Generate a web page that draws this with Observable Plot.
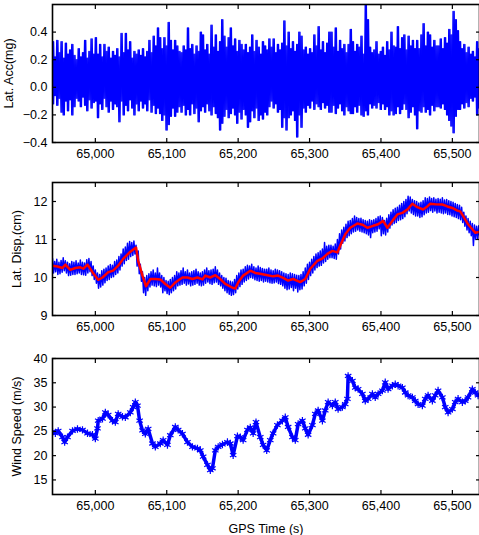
<!DOCTYPE html>
<html><head><meta charset="utf-8">
<script src="https://cdn.jsdelivr.net/npm/d3@7"></script>
<script src="https://cdn.jsdelivr.net/npm/@observablehq/plot@0.6"></script>
<style>
body{margin:0;background:#fff;}
#chart svg{display:block;}
</style></head><body><div id="chart"></div>
<script>
// ---------- shared x axis ----------
const xDomain = [64940, 65538];
const xTicks = [65000, 65100, 65200, 65300, 65400, 65500];
const xTitle = "GPS Time (s)";

// ---------- panel 1: lateral acceleration (3 s bins, max / min of each bin) ----------
const accStart = 64940, accStep = 3;
const accHi = [
  0.33,0.22,0.34,0.25,0.33,0.21,0.32,0.24,0.27,0.31,
  0.23,0.20,0.28,0.22,0.25,0.34,0.21,0.26,0.35,0.24,
  0.36,0.24,0.31,0.22,0.31,0.26,0.29,0.21,0.26,0.23,
  0.28,0.22,0.39,0.25,0.39,0.27,0.33,0.21,0.26,0.24,
  0.27,0.23,0.28,0.22,0.26,0.34,0.25,0.37,0.30,0.43,
  0.36,0.28,0.36,0.30,0.47,0.34,0.27,0.34,0.30,0.26,
  0.25,0.30,0.27,0.43,0.28,0.31,0.24,0.30,0.26,0.40,
  0.38,0.27,0.31,0.24,0.45,0.29,0.38,0.26,0.33,0.49,
  0.37,0.29,0.36,0.43,0.30,0.35,0.26,0.34,0.31,0.27,
  0.31,0.25,0.29,0.38,0.26,0.34,0.29,0.24,0.33,0.30,
  0.27,0.35,0.29,0.35,0.25,0.31,0.27,0.32,0.48,0.30,
  0.40,0.28,0.33,0.26,0.31,0.40,0.37,0.27,0.29,0.24,
  0.28,0.25,0.38,0.30,0.44,0.27,0.33,0.25,0.32,0.40,
  0.40,0.29,0.43,0.26,0.34,0.28,0.31,0.25,0.31,0.42,
  0.33,0.26,0.31,0.29,0.37,0.24,0.60,0.49,0.29,0.25,
  0.27,0.33,0.24,0.26,0.29,0.23,0.33,0.27,0.40,0.30,
  0.29,0.44,0.28,0.36,0.38,0.27,0.37,0.30,0.34,0.28,
  0.34,0.28,0.38,0.46,0.30,0.40,0.38,0.29,0.34,0.30,
  0.30,0.35,0.28,0.36,0.32,0.42,0.38,0.55,0.49,0.41,
  0.33,0.28,0.31,0.25,0.29,0.24,0.26,0.22,0.33,0.28
];
const accLo = [
  -0.12,-0.06,-0.13,-0.08,-0.18,-0.20,-0.10,-0.17,-0.09,-0.20,
  -0.14,-0.08,-0.10,-0.14,-0.07,-0.13,-0.17,-0.09,-0.15,-0.11,
  -0.10,-0.22,-0.12,-0.16,-0.08,-0.14,-0.18,-0.10,-0.16,-0.12,
  -0.14,-0.25,-0.10,-0.20,-0.13,-0.17,-0.09,-0.15,-0.20,-0.12,
  -0.17,-0.10,-0.15,-0.12,-0.17,-0.09,-0.18,-0.13,-0.19,-0.15,
  -0.19,-0.24,-0.20,-0.31,-0.27,-0.21,-0.15,-0.21,-0.18,-0.14,
  -0.18,-0.13,-0.20,-0.16,-0.20,-0.12,-0.19,-0.15,-0.25,-0.17,
  -0.14,-0.18,-0.12,-0.17,-0.20,-0.14,-0.19,-0.22,-0.31,-0.26,
  -0.21,-0.16,-0.22,-0.19,-0.15,-0.20,-0.26,-0.18,-0.23,-0.16,
  -0.20,-0.29,-0.25,-0.17,-0.22,-0.15,-0.24,-0.20,-0.23,-0.18,
  -0.20,-0.14,-0.10,-0.15,-0.12,-0.18,-0.16,-0.29,-0.22,-0.31,
  -0.22,-0.20,-0.17,-0.24,-0.36,-0.20,-0.29,-0.15,-0.18,-0.13,
  -0.15,-0.10,-0.16,-0.12,-0.14,-0.16,-0.11,-0.15,-0.13,-0.18,
  -0.18,-0.13,-0.19,-0.15,-0.12,-0.17,-0.20,-0.14,-0.17,-0.19,
  -0.19,-0.14,-0.18,-0.13,-0.20,-0.21,-0.17,-0.20,-0.12,-0.15,
  -0.13,-0.15,-0.11,-0.16,-0.12,-0.16,-0.14,-0.20,-0.17,-0.20,
  -0.19,-0.14,-0.19,-0.16,-0.12,-0.16,-0.22,-0.18,-0.14,-0.20,
  -0.30,-0.17,-0.18,-0.14,-0.18,-0.16,-0.20,-0.13,-0.17,-0.14,
  -0.14,-0.15,-0.12,-0.16,-0.20,-0.24,-0.28,-0.33,-0.21,-0.16,
  -0.16,-0.12,-0.15,-0.11,-0.14,-0.08,-0.10,-0.07,-0.20,-0.15
];
const accTicks = [-0.4, -0.2, 0, 0.2, 0.4];

// ---------- panel 2: lateral displacement ----------
const dispStart = 64940, dispStep = 3;
const dispHi = [
  10.50,10.42,10.48,10.40,10.45,10.52,10.44,10.40,10.36,10.42,
  10.40,10.44,10.38,10.46,10.40,10.38,10.47,10.50,10.42,10.30,
  10.20,10.12,10.08,10.18,10.22,10.25,10.30,10.34,10.32,10.42,
  10.46,10.55,10.62,10.75,10.80,10.90,10.95,10.92,10.96,10.85,
  10.70,10.35,10.15,10.00,10.05,10.10,10.15,10.20,10.12,10.25,
  10.12,10.05,10.00,9.92,9.90,9.95,10.00,10.05,10.15,10.12,
  10.18,10.25,10.15,10.20,10.12,10.15,10.18,10.22,10.15,10.12,
  10.15,10.20,10.25,10.18,10.20,10.22,10.28,10.20,10.12,10.05,
  10.00,9.98,9.92,9.90,9.88,9.95,10.05,10.12,10.20,10.22,
  10.28,10.32,10.30,10.35,10.28,10.25,10.30,10.26,10.24,10.22,
  10.22,10.25,10.20,10.18,10.22,10.20,10.18,10.15,10.12,10.10,
  10.08,10.12,10.10,10.08,10.06,10.05,10.08,10.15,10.25,10.35,
  10.40,10.48,10.55,10.62,10.65,10.70,10.75,10.92,10.82,10.85,
  10.85,10.82,10.88,11.00,11.15,11.25,11.32,11.40,11.48,11.50,
  11.55,11.62,11.58,11.55,11.56,11.52,11.50,11.48,11.52,11.50,
  11.52,11.55,11.60,11.62,11.58,11.50,11.56,11.65,11.72,11.78,
  11.82,11.85,11.90,11.95,12.00,12.05,12.14,12.12,12.05,12.02,
  12.00,11.96,11.98,12.02,12.10,12.08,12.12,12.08,12.10,12.06,
  12.08,12.06,12.10,12.04,12.05,12.02,12.00,11.98,11.95,11.92,
  11.90,11.85,11.72,11.62,11.55,11.48,11.42,11.38,11.35,11.36
];
const dispLo = [
  10.12,10.15,10.08,10.10,10.14,10.18,10.12,10.05,10.06,10.08,
  10.08,10.10,10.12,10.08,10.07,10.06,10.12,10.15,10.05,9.95,
  9.85,9.72,9.75,9.80,9.86,9.92,9.95,10.00,10.02,10.08,
  10.12,10.20,10.30,10.36,10.45,10.48,10.55,10.58,10.62,10.30,
  10.10,9.90,9.60,9.53,9.65,9.75,9.80,9.78,9.76,9.80,
  9.75,9.60,9.65,9.58,9.55,9.60,9.65,9.70,9.78,9.80,
  9.82,9.85,9.80,9.83,9.78,9.80,9.82,9.85,9.80,9.78,
  9.80,9.85,9.88,9.84,9.82,9.86,9.88,9.82,9.78,9.72,
  9.65,9.60,9.56,9.53,9.55,9.60,9.70,9.76,9.82,9.88,
  9.92,9.96,10.00,9.98,9.94,9.92,9.90,9.92,9.88,9.90,
  9.88,9.86,9.85,9.86,9.88,9.84,9.82,9.78,9.72,9.68,
  9.70,9.74,9.65,9.72,9.62,9.68,9.70,9.78,9.85,9.95,
  10.05,10.12,10.20,10.26,10.30,10.32,10.38,10.42,10.48,10.52,
  10.52,10.50,10.48,10.62,10.75,10.90,10.96,11.05,11.10,11.15,
  11.20,11.22,11.25,11.22,11.20,11.18,11.15,11.12,11.05,11.18,
  11.20,11.22,11.28,11.10,11.15,11.12,11.20,11.30,11.38,11.42,
  11.45,11.50,11.52,11.55,11.60,11.68,11.75,11.70,11.66,11.62,
  11.62,11.58,11.60,11.65,11.70,11.72,11.76,11.72,11.75,11.70,
  11.72,11.70,11.68,11.70,11.66,11.65,11.62,11.60,11.58,11.55,
  11.52,11.45,11.35,11.25,11.18,11.10,10.84,11.00,11.02,11.05
];
const smoothTime = [
  64940,64947,64954,64958,64965,64972,64979,64983,64989,64996,
  65004,65010,65018,65025,65032,65039,65049,65057,65060,65066,
  65071,65077,65084,65091,65098,65105,65112,65122,65129,65136,
  65143,65150,65154,65161,65168,65175,65182,65192,65196,65200,
  65207,65217,65224,65231,65241,65249,65256,65263,65270,65277,
  65287,65294,65301,65311,65318,65325,65332,65339,65343,65350,
  65357,65367,65374,65381,65389,65396,65403,65409,65416,65423,
  65430,65437,65444,65451,65459,65465,65469,65476,65486,65493,
  65500,65507,65511,65515,65522,65528,65532,65538
];
const smoothDisp = [
  10.31,10.29,10.25,10.34,10.20,10.25,10.27,10.23,10.34,10.14,
  9.94,10.00,10.14,10.18,10.31,10.49,10.68,10.79,10.44,10.05,
  9.77,9.96,9.96,9.95,9.83,9.73,9.87,10.00,10.00,9.96,
  10.00,9.95,10.05,10.00,10.06,9.96,9.83,9.73,9.71,9.87,
  10.05,10.18,10.12,10.10,10.06,10.03,10.05,9.99,9.92,9.96,
  9.88,9.96,10.23,10.44,10.50,10.62,10.70,10.66,10.84,11.14,
  11.31,11.42,11.39,11.31,11.36,11.40,11.49,11.31,11.49,11.66,
  11.70,11.79,11.94,11.85,11.79,11.87,11.94,11.93,11.92,11.87,
  11.83,11.76,11.74,11.62,11.40,11.27,11.18,11.20
];
const dispTicks = [9, 10, 11, 12];

// ---------- panel 3: wind speed ----------
const windTime = [
  64940,64944,64948,64954,64957,64961,64968,64975,64982,64989,
  64996,65000,65003,65004,65010,65014,65018,65024,65028,65032,
  65038,65042,65049,65053,65056,65059,65062,65066,65070,65074,
  65080,65084,65091,65095,65101,65105,65112,65116,65122,65129,
  65136,65143,65147,65151,65157,65161,65164,65168,65172,65178,
  65185,65189,65193,65199,65203,
  65207,65213,65217,65221,65225,65231,65235,65240,65245,65249,
  65255,65262,65266,65270,65276,65280,65284,65290,65294,65298,
  65304,65308,65312,65318,65322,65326,65332,65336,65340,65346,
  65350,65353,65354,65360,65364,65368,65374,65378,65382,65388,
  65392,65396,65402,65406,65410,65416,65420,65424,65430,65434,
  65438,65444,65448,65452,65458,65462,65466,65472,65476,65480,
  65486,65490,65494,65500,65504,65508,65514,65518,65522,65528,
  65532,65536
];
const windSpeed = [
  24.9,24.6,25.1,23.8,22.8,23.8,25.1,25.5,25.3,24.6,
  24.3,23.5,25.6,27.2,27.6,28.9,28.4,27.2,26.9,28.6,
  28.0,27.9,28.9,30.0,31.0,30.3,27.2,25.2,24.5,25.5,
  22.5,21.8,22.5,23.2,22.2,24.2,25.9,25.3,24.5,22.8,
  21.8,21.5,21.1,19.8,18.1,17.0,17.4,21.1,21.8,22.3,
  22.8,22.5,20.1,24.0,23.8,
  23.2,25.3,25.8,24.6,26.9,23.8,22.2,21.1,23.2,24.6,
  26.3,27.2,27.9,25.9,23.8,23.2,26.5,27.2,25.6,24.3,
  26.3,28.6,29.3,27.2,29.3,31.0,30.3,31.0,29.6,30.0,
  30.6,31.7,36.4,35.4,34.0,33.7,32.7,31.3,31.7,32.7,
  32.0,32.7,33.4,35.1,33.7,34.4,34.7,34.4,34.0,33.0,
  32.4,32.0,31.3,30.6,30.3,31.7,32.4,31.3,32.4,33.4,
  32.0,30.0,28.9,29.6,31.0,31.7,31.0,31.3,32.0,33.7,
  33.0,32.4
];
const windTicks = [15, 20, 25, 30, 35, 40];

// ---------- build tables ----------
// each bin's max and min; the acceleration bins are visited in both orders so its band is drawn densely
function zigzag(start, step, first, second) {
  const out = [];
  first.forEach((a, i) => {
    out.push({t: start + step * i, v: a});
    out.push({t: start + step * i + step / 2, v: second[i]});
  });
  return out;
}
const accData = zigzag(accStart, accStep, accHi, accLo);
const accData2 = zigzag(accStart, accStep, accLo, accHi);
const dispData = zigzag(dispStart, dispStep, dispHi, dispLo);
const smoothData = smoothTime.map((t, i) => ({t, v: smoothDisp[i]}));
const windData = windTime.map((t, i) => ({t, v: windSpeed[i]})).filter(d => d.v != null);

const BLUE = "#0000ff", RED = "#ff0000";
const FONT = "'Liberation Sans', Arial, Helvetica, sans-serif";

function panel({height, marginTop, marginBottom, yDomain, yTicks, yLabel, yLabelOffset, xLabel, marks}) {
  return Plot.plot({
    width: 479, height, marginLeft: 52, marginRight: 0, marginTop, marginBottom,
    style: {fontFamily: FONT, fontSize: "12.5px", color: "#000", background: "#fff", overflow: "visible"},
    x: {domain: xDomain},
    y: {domain: yDomain},
    marks: [
      ...marks,
      Plot.frame({stroke: "#000", strokeWidth: 1.6}),
      Plot.axisX(xTicks, {anchor: "bottom", tickSize: -4, tickPadding: 11, strokeWidth: 1.2,
        tickFormat: d3.format(","), label: xLabel ?? null, labelAnchor: "center", labelOffset: 38, labelArrow: "none"}),
      Plot.axisX(xTicks, {anchor: "top", tickSize: -4, strokeWidth: 1.2, fill: "none", label: null}),
      Plot.axisY(yTicks, {anchor: "left", tickSize: -4, tickPadding: 9, strokeWidth: 1.2,
        label: yLabel, labelAnchor: "center", labelOffset: yLabelOffset, labelArrow: "none"}),
      Plot.axisY(yTicks, {anchor: "right", tickSize: -4, strokeWidth: 1.2, fill: "none", label: null})
    ]
  });
}

const p1 = panel({
  height: 170, marginTop: 4, marginBottom: 28,
  yDomain: [-0.4, 0.6], yTicks: accTicks, yLabel: "Lat. Acc(mg)", yLabelOffset: 48,
  marks: [
    Plot.line(accData, {x: "t", y: "v", stroke: BLUE, strokeWidth: 1.4, clip: true}),
    Plot.line(accData2, {x: "t", y: "v", stroke: BLUE, strokeWidth: 1.4, clip: true})
  ]
});
const p2 = panel({
  height: 170, marginTop: 12, marginBottom: 25,
  yDomain: [9, 12.5], yTicks: dispTicks, yLabel: "Lat. Disp.(cm)", yLabelOffset: 40,
  marks: [
    Plot.line(dispData, {x: "t", y: "v", stroke: BLUE, strokeWidth: 1.5, clip: true}),
    Plot.line(smoothData, {x: "t", y: "v", stroke: RED, strokeWidth: 2.5, clip: true})
  ]
});
const p3 = panel({
  height: 195, marginTop: 18, marginBottom: 41,
  yDomain: [12, 40], yTicks: windTicks, yLabel: "Wind Speed (m/s)", yLabelOffset: 40, xLabel: xTitle,
  marks: [
    Plot.line(windData, {x: "t", y: "v", stroke: BLUE, strokeWidth: 3.5, clip: true}),
    Plot.dot(windData, {x: "t", y: "v", symbol: "asterisk", r: 3.5, stroke: BLUE, strokeWidth: 1.2, clip: true})
  ]
});
document.getElementById("chart").append(p1, p2, p3);
</script></body></html>
